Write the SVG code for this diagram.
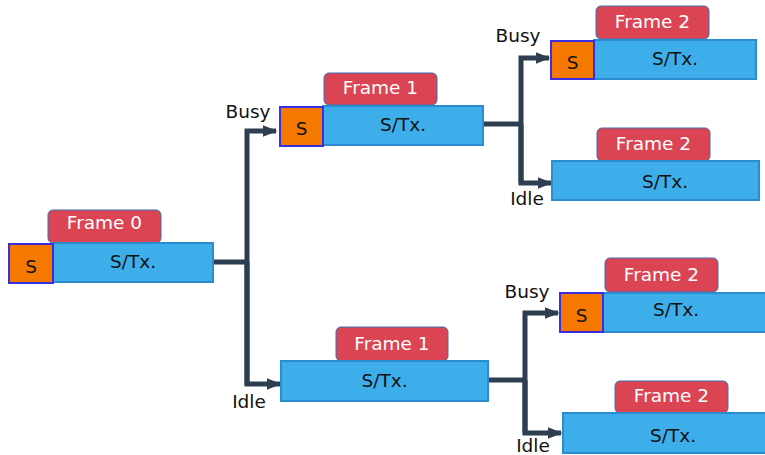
<svg xmlns="http://www.w3.org/2000/svg" width="765" height="455" viewBox="0 0 765 455">
  <style>
    .tx { fill: #3daee9; stroke: #2b8ccf; stroke-width: 2; }
    .s { fill: #f57900; stroke: #3a2ee0; stroke-width: 2; }
    .tag { fill: #da4453; stroke: #3f6fb0; stroke-width: 1; }
    .t { font-family: "DejaVu Sans", sans-serif; font-size: 18.5px; text-anchor: middle; fill: #111; }
    .tw { font-family: "DejaVu Sans", sans-serif; font-size: 18.5px; text-anchor: middle; fill: #ffffff; }
    .lbl { font-family: "DejaVu Sans", sans-serif; font-size: 18.5px; text-anchor: middle; fill: #111; }
    .wire { fill: none; stroke: #2c3e50; stroke-width: 5; stroke-linejoin: miter; }
  </style>
  <defs>
    <marker id="arrow" viewBox="0 0 10 10" refX="9" refY="5" markerWidth="3" markerHeight="3" orient="auto" markerUnits="strokeWidth">
      <path d="M0,1 L10,5 L0,9 z" fill="#2c3e50"/>
    </marker>
  </defs>

  <!-- connectors -->
  <g id="connectors">
    <path class="wire" d="M213,262 H247"/>
    <path class="wire" d="M247,385 V131 H276" marker-end="url(#arrow)"/>
    <path class="wire" d="M247,262 V384 H280" marker-end="url(#arrow)"/>
    <path class="wire" d="M483,124 H521"/>
    <path class="wire" d="M521,183 V58 H549" marker-end="url(#arrow)"/>
    <path class="wire" d="M521,124 V183 H551" marker-end="url(#arrow)"/>
    <path class="wire" d="M488,380 H525"/>
    <path class="wire" d="M525,433 V313 H558" marker-end="url(#arrow)"/>
    <path class="wire" d="M525,380 V433 H561" marker-end="url(#arrow)"/>
    <text class="lbl" x="248" y="118">Busy</text>
    <text class="lbl" x="249" y="408">Idle</text>
    <text class="lbl" x="518" y="42">Busy</text>
    <text class="lbl" x="527" y="205">Idle</text>
    <text class="lbl" x="527" y="298">Busy</text>
    <text class="lbl" x="533" y="452">Idle</text>
  </g>

  <!-- frame 0 -->
  <g id="frame0">
    <rect class="tag" x="48" y="210" width="113" height="33" rx="5"/>
    <text class="tw" x="104.5" y="229">Frame 0</text>
    <rect class="tx" x="53" y="243" width="160" height="39"/>
    <text class="t" x="133" y="268">S/Tx.</text>
    <rect class="s" x="9" y="244" width="44" height="39"/>
    <text class="t" x="31" y="273">S</text>
  </g>

  <!-- frame 1, busy -->
  <g id="frame1-busy">
    <rect class="tag" x="324" y="73" width="113" height="32" rx="5"/>
    <text class="tw" x="380.5" y="94">Frame 1</text>
    <rect class="tx" x="323" y="106" width="160" height="39"/>
    <text class="t" x="403" y="131">S/Tx.</text>
    <rect class="s" x="280" y="107" width="43" height="39"/>
    <text class="t" x="301.5" y="135">S</text>
  </g>

  <!-- frame 1, idle -->
  <g id="frame1-idle">
    <rect class="tag" x="336" y="327" width="112" height="34" rx="5"/>
    <text class="tw" x="392" y="350">Frame 1</text>
    <rect class="tx" x="281" y="361" width="207" height="40"/>
    <text class="t" x="384.5" y="387">S/Tx.</text>
  </g>

  <!-- frame 2, busy/busy -->
  <g id="frame2-bb">
    <rect class="tag" x="596" y="6" width="113" height="33" rx="5"/>
    <text class="tw" x="652.5" y="28">Frame 2</text>
    <rect class="tx" x="594" y="40" width="162" height="39"/>
    <text class="t" x="675" y="65">S/Tx.</text>
    <rect class="s" x="551" y="41" width="43" height="38"/>
    <text class="t" x="572.5" y="69">S</text>
  </g>

  <!-- frame 2, busy/idle -->
  <g id="frame2-bi">
    <rect class="tag" x="597" y="128" width="113" height="33" rx="5"/>
    <text class="tw" x="653.5" y="150">Frame 2</text>
    <rect class="tx" x="552" y="161" width="207" height="39"/>
    <text class="t" x="665" y="188">S/Tx.</text>
  </g>

  <!-- frame 2, idle/busy -->
  <g id="frame2-ib">
    <rect class="tag" x="605" y="258" width="113" height="34" rx="5"/>
    <text class="tw" x="661.5" y="281">Frame 2</text>
    <rect class="tx" x="603" y="293" width="170" height="39"/>
    <text class="t" x="676" y="316">S/Tx.</text>
    <rect class="s" x="560" y="293" width="43" height="39"/>
    <text class="t" x="581.5" y="322">S</text>
  </g>

  <!-- frame 2, idle/idle -->
  <g id="frame2-ii">
    <rect class="tag" x="615" y="381" width="113" height="32" rx="5"/>
    <text class="tw" x="671.5" y="402">Frame 2</text>
    <rect class="tx" x="563" y="413" width="210" height="40"/>
    <text class="t" x="673" y="442">S/Tx.</text>
  </g>
</svg>
